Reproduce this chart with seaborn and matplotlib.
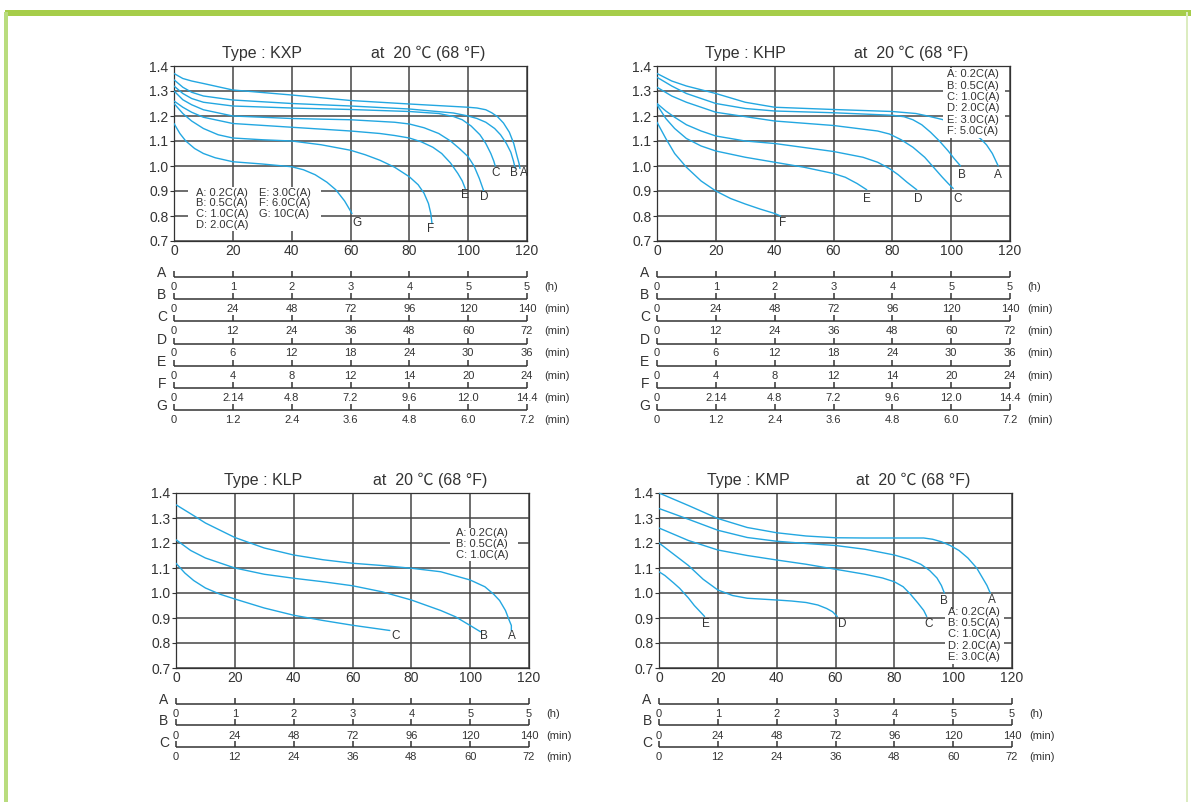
import numpy as np
import matplotlib
matplotlib.use("Agg")
import matplotlib.pyplot as plt
from matplotlib.patches import Rectangle
import seaborn as sns

# ---- shared axes values ----
x_ticks = [0, 20, 40, 60, 80, 100, 120]
y_ticks = [0.7, 0.8, 0.9, 1.0, 1.1, 1.2, 1.3, 1.4]
y_tick_labels = ["0.7", "0.8", "0.9", "1.0", "1.1", "1.2", "1.3", "1.4"]

# ---- time scales printed under the charts ----
scale_letters = ["A", "B", "C", "D", "E", "F", "G"]
scale_a = ["0", "1", "2", "3", "4", "5", "5"]
scale_b = ["0", "24", "48", "72", "96", "120", "140"]
scale_c = ["0", "12", "24", "36", "48", "60", "72"]
scale_d = ["0", "6", "12", "18", "24", "30", "36"]
scale_e = ["0", "4", "8", "12", "14", "20", "24"]
scale_f = ["0", "2.14", "4.8", "7.2", "9.6", "12.0", "14.4"]
scale_g = ["0", "1.2", "2.4", "3.6", "4.8", "6.0", "7.2"]
scale_units = ["(h)", "(min)", "(min)", "(min)", "(min)", "(min)", "(min)"]

# ---- KXP ----
kxp_labels = ["A", "B", "C", "D", "E", "F", "G"]
kxp_rates = ["0.2C(A)", "0.5C(A)", "1.0C(A)", "2.0C(A)", "3.0C(A)", "6.0C(A)", "10C(A)"]
kxp_a_x = [0, 3, 6, 10, 20, 40, 60, 80, 100, 103, 106, 108, 110, 112, 114, 115.5, 116.6, 117.3, 117.6]
kxp_a_y = [1.37, 1.35, 1.34, 1.33, 1.304, 1.284, 1.262, 1.248, 1.235, 1.232, 1.225, 1.213, 1.197, 1.172, 1.135, 1.09, 1.04, 1.01, 0.99]
kxp_b_x = [0, 3, 6, 10, 20, 40, 60, 80, 95, 100, 103, 106, 109, 111, 113, 114.5, 115.4, 116]
kxp_b_y = [1.345, 1.315, 1.295, 1.28, 1.264, 1.25, 1.24, 1.228, 1.212, 1.20, 1.19, 1.175, 1.15, 1.125, 1.09, 1.055, 1.02, 0.99]
kxp_c_x = [0, 3, 6, 10, 20, 40, 60, 80, 90, 95, 98, 101, 104, 106, 107.7, 108.7, 109.2]
kxp_c_y = [1.32, 1.29, 1.27, 1.255, 1.24, 1.232, 1.226, 1.218, 1.21, 1.198, 1.185, 1.16, 1.125, 1.09, 1.05, 1.02, 1.0]
kxp_d_x = [0, 3, 6, 10, 20, 40, 60, 75, 80, 85, 90, 94, 97, 100, 102, 103.8, 105.3]
kxp_d_y = [1.30, 1.265, 1.245, 1.225, 1.20, 1.19, 1.185, 1.175, 1.168, 1.153, 1.13, 1.10, 1.07, 1.037, 1.0, 0.95, 0.90]
kxp_e_x = [0, 3, 6, 10, 20, 40, 60, 70, 75, 80, 84, 88, 91, 94, 96.5, 98, 99]
kxp_e_y = [1.26, 1.235, 1.215, 1.195, 1.17, 1.155, 1.14, 1.13, 1.122, 1.112, 1.097, 1.075, 1.05, 1.012, 0.97, 0.94, 0.91]
kxp_f_x = [0, 3, 6, 10, 15, 20, 30, 40, 50, 60, 65, 70, 75, 80, 83, 85, 86.5, 87.3, 87.7]
kxp_f_y = [1.25, 1.21, 1.18, 1.15, 1.125, 1.112, 1.105, 1.10, 1.085, 1.063, 1.045, 1.023, 0.995, 0.957, 0.925, 0.891, 0.85, 0.81, 0.77]
kxp_g_x = [0, 2, 4, 7, 10, 14, 20, 30, 40, 44, 48, 52, 55, 58, 60.5]
kxp_g_y = [1.17, 1.13, 1.10, 1.07, 1.05, 1.033, 1.017, 1.008, 0.997, 0.985, 0.965, 0.935, 0.905, 0.86, 0.81]

# ---- KHP ----
khp_labels = ["A", "B", "C", "D", "E", "F"]
khp_rates = ["0.2C(A)", "0.5C(A)", "1.0C(A)", "2.0C(A)", "3.0C(A)", "5.0C(A)"]
khp_a_x = [0, 5, 10, 20, 30, 40, 60, 80, 88, 92, 97, 103, 107, 110, 112, 114, 116]
khp_a_y = [1.37, 1.34, 1.32, 1.29, 1.255, 1.235, 1.226, 1.218, 1.21, 1.20, 1.186, 1.16, 1.135, 1.109, 1.085, 1.05, 1.0]
khp_b_x = [0, 5, 10, 20, 30, 40, 60, 80, 84, 87, 90, 93, 96, 99, 101, 103.2]
khp_b_y = [1.355, 1.32, 1.29, 1.25, 1.23, 1.22, 1.213, 1.203, 1.197, 1.185, 1.165, 1.135, 1.10, 1.06, 1.03, 1.0]
khp_c_x = [0, 5, 10, 20, 40, 60, 75, 79, 83, 87, 91, 94, 97, 99, 100.7]
khp_c_y = [1.315, 1.28, 1.255, 1.215, 1.18, 1.162, 1.14, 1.128, 1.105, 1.075, 1.035, 0.995, 0.955, 0.93, 0.91]
khp_d_x = [0, 3, 6, 10, 15, 20, 30, 40, 60, 70, 75, 79, 82, 85, 88.3]
khp_d_y = [1.25, 1.22, 1.195, 1.165, 1.14, 1.12, 1.10, 1.09, 1.058, 1.035, 1.015, 0.99, 0.965, 0.935, 0.905]
khp_e_x = [0, 3, 6, 10, 15, 20, 30, 40, 50, 60, 64, 68, 71.3]
khp_e_y = [1.245, 1.19, 1.15, 1.11, 1.08, 1.06, 1.035, 1.015, 0.995, 0.97, 0.955, 0.93, 0.905]
khp_f_x = [0, 3, 6, 10, 15, 20, 25, 30, 35, 40, 42]
khp_f_y = [1.175, 1.11, 1.05, 0.995, 0.94, 0.90, 0.87, 0.848, 0.828, 0.81, 0.80]

# ---- KLP ----
klp_labels = ["A", "B", "C"]
klp_rates = ["0.2C(A)", "0.5C(A)", "1.0C(A)"]
klp_a_x = [0, 6.5, 10, 20, 30, 40, 50, 60, 70, 80, 90, 100, 105, 108, 110, 112, 113.3, 114, 114]
klp_a_y = [1.353, 1.306, 1.28, 1.222, 1.18, 1.152, 1.133, 1.119, 1.11, 1.099, 1.085, 1.052, 1.025, 0.995, 0.97, 0.93, 0.89, 0.87, 0.85]
klp_b_x = [0, 5, 10, 20, 30, 40, 50, 60, 70, 80, 90, 95, 100, 103.5]
klp_b_y = [1.213, 1.17, 1.14, 1.10, 1.075, 1.059, 1.045, 1.029, 1.005, 0.972, 0.93, 0.905, 0.87, 0.845]
klp_c_x = [0, 3, 6, 10, 15, 20, 30, 40, 50, 60, 72.7]
klp_c_y = [1.119, 1.08, 1.05, 1.02, 0.995, 0.976, 0.94, 0.911, 0.89, 0.871, 0.85]

# ---- KMP ----
kmp_labels = ["A", "B", "C", "D", "E"]
kmp_rates = ["0.2C(A)", "0.5C(A)", "1.0C(A)", "2.0C(A)", "3.0C(A)"]
kmp_a_x = [0, 10, 20, 30, 40, 50, 60, 70, 80, 90, 93, 96, 99, 102, 105, 108, 110, 111.5, 112.6]
kmp_a_y = [1.40, 1.35, 1.298, 1.262, 1.241, 1.228, 1.221, 1.22, 1.22, 1.22, 1.215, 1.205, 1.19, 1.17, 1.14, 1.10, 1.06, 1.03, 1.0]
kmp_b_x = [0, 10, 20, 30, 40, 50, 60, 70, 80, 85, 89, 92, 94.5, 96, 97]
kmp_b_y = [1.338, 1.295, 1.251, 1.222, 1.207, 1.198, 1.19, 1.175, 1.152, 1.135, 1.115, 1.09, 1.06, 1.03, 1.0]
kmp_c_x = [0, 10, 20, 30, 40, 50, 60, 70, 76, 80, 83, 85.5, 88, 90, 91]
kmp_c_y = [1.26, 1.21, 1.172, 1.15, 1.132, 1.115, 1.095, 1.075, 1.06, 1.045, 1.025, 0.995, 0.96, 0.93, 0.906]
kmp_d_x = [0, 5, 10, 15, 20, 25, 30, 40, 45, 50, 54, 57, 59, 60.6]
kmp_d_y = [1.20, 1.155, 1.11, 1.055, 1.012, 0.99, 0.979, 0.972, 0.968, 0.962, 0.952, 0.938, 0.925, 0.906]
kmp_e_x = [0, 2, 5, 7, 10, 12, 14, 15.5]
kmp_e_y = [1.085, 1.07, 1.04, 1.019, 0.98, 0.95, 0.925, 0.906]

CURVE = "#23a7e1"
GRID = "#454545"
INK = "#333333"
W, H = 1191, 802

sns.set_style("white")
plt.rcParams["font.family"] = ["Liberation Sans", "Noto Sans CJK KR", "DejaVu Sans"]

fig = plt.figure(figsize=(W / 100, H / 100), dpi=100)


def px_axes(left, top, right, bottom):
    return fig.add_axes([left / W, 1 - bottom / H, (right - left) / W, (bottom - top) / H])


def draw_chart(ax, name, xs, ys, labels, offsets):
    for cx, cy in zip(xs, ys):
        sns.lineplot(x=cx, y=cy, ax=ax, color=CURVE, lw=1.0, sort=False,
                     estimator=None, zorder=3)
    for cx, cy, lab, (dx, dy) in zip(xs, ys, labels, offsets):
        ax.annotate(lab, (cx[-1], cy[-1]), xytext=(dx, dy), textcoords="offset pixels",
                    ha="center", va="center", fontsize=8.5, color=INK, zorder=6)
    ax.set_xlim(0, 120)
    ax.set_ylim(0.7, 1.4)
    ax.set_xticks(x_ticks)
    ax.set_xticklabels([str(v) for v in x_ticks])
    ax.set_yticks(y_ticks)
    ax.set_yticklabels(y_tick_labels)
    ax.grid(True, color=GRID, lw=1.1)
    ax.set_axisbelow(True)
    ax.tick_params(axis="y", direction="out", length=3, width=0.8, pad=1,
                   labelsize=10, colors=INK, left=True)
    ax.tick_params(axis="x", length=0, pad=2.5, labelsize=10, colors=INK)
    for s in ax.spines.values():
        s.set_color(INK)
        s.set_linewidth(0.9)
    ax.set_xlabel("")
    ax.set_ylabel("")
    ax.text(0.136, 1.074, "Type : " + name, transform=ax.transAxes, ha="left",
            va="center", fontsize=11.5, color=INK)
    ax.text(0.557, 1.074, "at  20 \u2103 (68 \u00b0F)", transform=ax.transAxes,
            ha="left", va="center", fontsize=11.5, color=INK)


def draw_legend(ax, box, columns, x0s, y0, step):
    ax.add_patch(Rectangle((box[0], box[1]), box[2] - box[0], box[3] - box[1],
                           transform=ax.transAxes, facecolor="white",
                           edgecolor="none", zorder=4))
    for col, x0 in zip(columns, x0s):
        for i, line in enumerate(col):
            ax.text(x0, y0 - i * step, line, transform=ax.transAxes, ha="left",
                    va="center", fontsize=8, color=INK, zorder=5)


def draw_scale(sax, rows, width_px, sp):
    n = len(rows)
    xpu = width_px / 120
    sax.set_xlim(0, 120)
    sax.set_ylim(n - 0.5, -0.5)
    sax.axis("off")
    for i, (letter, labs, unit) in enumerate(rows):
        sax.plot([0, 120], [i, i], color=INK, lw=1.1, solid_capstyle="butt", clip_on=False)
        sax.vlines(x_ticks, i - 6 / sp, i, color=INK, lw=1.1, clip_on=False)
        sax.text(-12 / xpu, i - 4 / sp, letter, ha="center", va="center",
                 fontsize=10, color=INK)
        for x, lab in zip(x_ticks, labs):
            sax.text(x, i + 10 / sp, lab, ha="center", va="center", fontsize=8, color=INK)
        sax.text(120 + 17 / xpu, i + 10 / sp, unit, ha="left", va="center",
                 fontsize=8, color=INK)


rows_top = list(zip(scale_letters,
                    [scale_a, scale_b, scale_c, scale_d, scale_e, scale_f, scale_g],
                    scale_units))
rows_bottom = rows_top[:3]

# page frame
fig.add_artist(Rectangle((5 / W, 1 - 16 / H), (W - 5) / W, 6 / H, transform=fig.transFigure,
                         facecolor="#a6cd4a", edgecolor="none"))
fig.add_artist(Rectangle((4 / W, 0), 4 / W, 1 - 12 / H, transform=fig.transFigure,
                         facecolor="#b9dc7e", edgecolor="none"))
fig.add_artist(Rectangle((1186 / W, 0), 2 / W, 1 - 12 / H, transform=fig.transFigure,
                         facecolor="#dcecc0", edgecolor="none"))

# KXP
ax = px_axes(174, 66, 527, 241)
draw_chart(ax, "KXP",
           [kxp_a_x, kxp_b_x, kxp_c_x, kxp_d_x, kxp_e_x, kxp_f_x, kxp_g_x],
           [kxp_a_y, kxp_b_y, kxp_c_y, kxp_d_y, kxp_e_y, kxp_f_y, kxp_g_y],
           kxp_labels, [(4, -5), (-1.5, -5), (0, -7), (0, -6.5), (0, -7), (-1.5, -6), (5, -9)])
kxp_leg = [f"{l}: {r}" for l, r in zip(kxp_labels, kxp_rates)]
draw_legend(ax, (0.040, 0.057, 0.416, 0.311), [kxp_leg[:4], kxp_leg[4:]],
            [0.061, 0.241], 0.276, 0.061)
draw_scale(px_axes(174, 266, 527, 421), rows_top, 353, 22.17)

# KHP
ax = px_axes(657, 66, 1010, 241)
draw_chart(ax, "KHP",
           [khp_a_x, khp_b_x, khp_c_x, khp_d_x, khp_e_x, khp_f_x],
           [khp_a_y, khp_b_y, khp_c_y, khp_d_y, khp_e_y, khp_f_y],
           khp_labels, [(0, -9), (1, -9), (4, -10.5), (2, -9), (0, -9), (2, -7)])
khp_leg = [f"{l}: {r}" for l, r in zip(khp_labels, khp_rates)]
draw_legend(ax, (0.81, 0.589, 0.985, 0.99), [khp_leg], [0.822], 0.953, 0.065)
draw_scale(px_axes(657, 266, 1010, 421), rows_top, 353, 22.17)

# KLP
ax = px_axes(176, 493, 529, 668)
draw_chart(ax, "KLP", [klp_a_x, klp_b_x, klp_c_x], [klp_a_y, klp_b_y, klp_c_y],
           klp_labels, [(1, -5.5), (3.5, -4.5), (6, -5.5)])
klp_leg = [f"{l}: {r}" for l, r in zip(klp_labels, klp_rates)]
draw_legend(ax, (0.775, 0.614, 0.969, 0.80), [klp_leg], [0.793], 0.771, 0.063)
draw_scale(px_axes(176, 693, 529, 758), rows_bottom, 353, 21.5)

# KMP
ax = px_axes(659, 493, 1012, 668)
draw_chart(ax, "KMP",
           [kmp_a_x, kmp_b_x, kmp_c_x, kmp_d_x, kmp_e_x],
           [kmp_a_y, kmp_b_y, kmp_c_y, kmp_d_y, kmp_e_y],
           kmp_labels, [(2, -7), (0, -8), (2, -7.5), (5, -7.5), (1, -7.5)])
kmp_leg = [f"{l}: {r}" for l, r in zip(kmp_labels, kmp_rates)]
draw_legend(ax, (0.811, 0.021, 0.976, 0.336), [kmp_leg], [0.819], 0.32, 0.064)
draw_scale(px_axes(659, 693, 1012, 758), rows_bottom, 353, 21.5)

fig.savefig("out.png", dpi=100, facecolor="white")
